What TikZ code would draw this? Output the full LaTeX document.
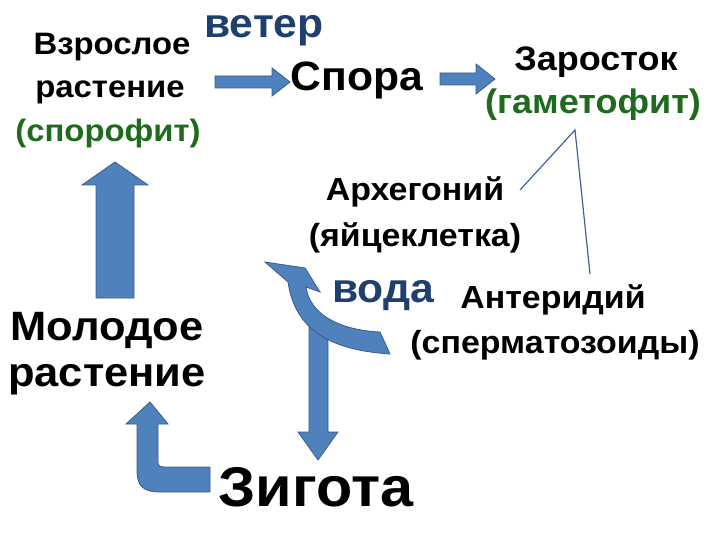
\documentclass[tikz,border=0pt]{standalone}
\usepackage{fontspec}
\setmainfont{Liberation Sans}
\usetikzlibrary{arrows.meta}
\definecolor{arr}{HTML}{4F81BD}
\definecolor{arrd}{HTML}{385D8A}
\definecolor{grn}{HTML}{1E6B1E}
\definecolor{navy}{HTML}{1F3F6F}
\begin{document}
\begin{tikzpicture}[x=1pt,y=-1pt,
  t/.style={font=\bfseries\fontsize{32}{36}\selectfont, inner sep=0pt, align=center, xscale=1.06},
  big/.style={font=\bfseries\fontsize{41}{46}\selectfont, inner sep=0pt, xscale=1.04},
  blk/.style={draw=arrd, line width=0.8pt, fill=arr},
  ln/.style={draw=arrd!80!arr, line width=1.2pt}]
\useasboundingbox (0,0) rectangle (720,540);
\node[t, font=\bfseries\fontsize{31}{36}\selectfont] (vz) at (112,47) {Взрослое};
\node[t, font=\bfseries\fontsize{31}{36}\selectfont] (ras1) at (110,92) {растение};
\node[t, font=\bfseries\fontsize{31}{36}\selectfont, text=grn] (spf) at (108,133) {(спорофит)};
\node[big, text=navy] (veter) at (264,31) {ветер};
\node[big] (spora) at (357,80) {Спора};
\node[t, font=\bfseries\fontsize{34}{38}\selectfont] (zar) at (596,62) {Заросток};
\node[t, font=\bfseries\fontsize{34}{38}\selectfont, text=grn] (gam) at (593,105) {(гаметофит)};
\node[t] (arh) at (415,192) {Архегоний};
\node[t] (yaj) at (415,238) {(яйцеклетка)};
\node[big, text=navy] (voda) at (383,296) {вода};
\node[t] (ant) at (553,300) {Антеридий};
\node[t] (sper) at (555,345) {(сперматозоиды)};
\node[t, font=\bfseries\fontsize{41}{46}\selectfont] (mol) at (107,330) {Молодое};
\node[t, font=\bfseries\fontsize{41}{46}\selectfont] (ras2) at (107,380) {растение};
\node[t, font=\bfseries\fontsize{56}{60}\selectfont, xscale=1.0] (zig) at (316,487) {Зигота};
\coordinate (apex) at (575,130);
\coordinate (a1) at (520,190);
\coordinate (a2) at (590,274);
\draw[ln] (a1) -- (apex) -- (a2);
% horizontal arrows
\path[blk] (215,76) -- (272,76) -- (272,68) -- (290,82) -- (272,96) -- (272,88) -- (215,88) -- cycle;
\path[blk] (440,73) -- (476,73) -- (476,64) -- (495,79) -- (476,94) -- (476,85) -- (440,85) -- cycle;
% up arrow left
\path[blk] (96,298) -- (96,185) -- (82,185) -- (115,162) -- (148,185) -- (134,185) -- (134,298) -- cycle;
% down arrow
\path[blk] (309,326) -- (328,326) -- (328,432) -- (338,432) -- (318,460) -- (298,432) -- (309,432) -- cycle;
% L arrow
\path[blk] (210,467) -- (210,492) -- (160,492) .. controls (142,492) and (137,485) .. (137,470) -- (137,424) -- (126,424) -- (150,402) -- (168,424) -- (158,424) -- (158,462) .. controls (158,466) and (160,467) .. (165,467) -- cycle;
% curved arrow
\path[blk] (390,354) .. controls (330,350) and (295,330) .. (288,282) -- (265,262) -- (305,268) -- (320,292) -- (306,287) .. controls (310,315) and (340,330) .. (380,332) -- cycle;
\end{tikzpicture}
\end{document}
